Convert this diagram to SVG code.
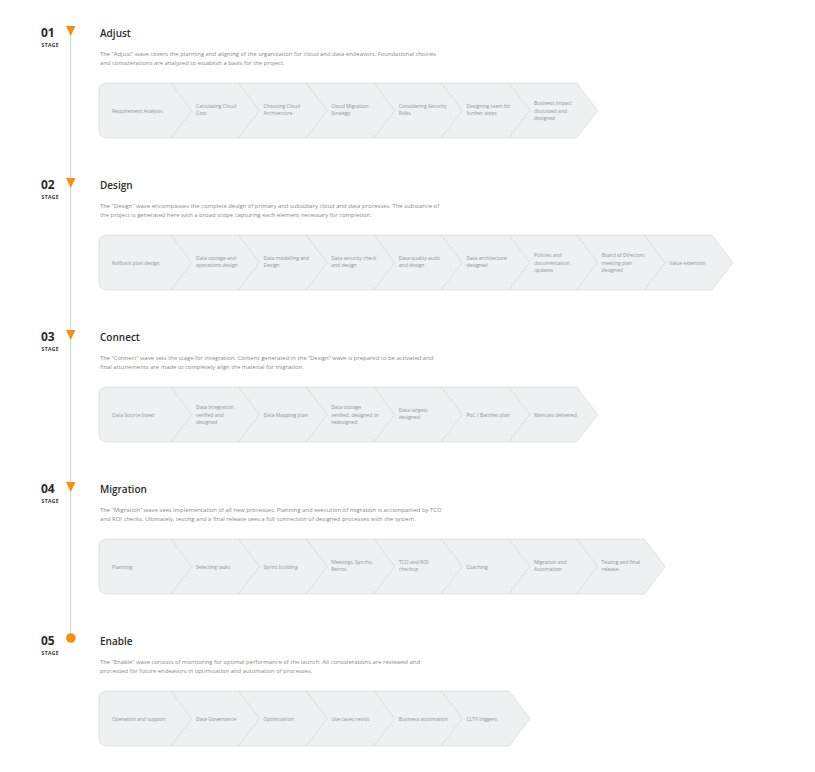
<svg xmlns="http://www.w3.org/2000/svg" xmlns:xlink="http://www.w3.org/1999/xlink" width="815" height="772" viewBox="0 0 815 772">
<style>
.num{font-family:"Open Sans","Liberation Sans",sans-serif;font-weight:700;font-size:12px;fill:#2b2b2b}
.stg{font-family:"Open Sans","Liberation Sans",sans-serif;font-weight:700;font-size:5px;letter-spacing:0.4px;fill:#333}
.ttl{font-family:"Open Sans","Liberation Sans",sans-serif;font-weight:600;font-size:10px;fill:#2b2b2b}
.dsc{font-family:"Open Sans","Liberation Sans",sans-serif;font-size:5.9px;fill:#8a8a8a}
.lbl{font-family:"Open Sans","Liberation Sans",sans-serif;font-size:5px;fill:#8e9399}
.chev{fill:#eef0f2;stroke:#d8dce0;stroke-width:0.8;stroke-linejoin:round}
.mark{fill:#f28f1b}
.tl{stroke:#d2d2d2;stroke-width:1;fill:none}
</style>
<defs>
<path id="chev0" d="M107,63 L171,63 L192,90.5 L171,118 L107,118 Q99,118 99,110 L99,71 Q99,63 107,63 Z"/>
<path id="chev" d="M0,63 L67.6,63 L88.6,90.5 L67.6,118 L0,118 L21,90.5 Z"/>
</defs>
<rect width="815" height="772" fill="#ffffff"/>
<g id="connectors">
<line class="tl" x1="70.7" y1="30" x2="70.7" y2="638"/>
</g>

<!-- Stage 1 -->
<g id="stage1" transform="translate(0,20)">
<g id="s1-header">
<polygon class="mark" points="66,6 75.4,6 70.7,16"/>
<text class="num" x="41" y="17">01</text>
<text class="stg" x="41.5" y="27.3">STAGE</text>
<text class="ttl" x="100" y="17">Adjust</text>
<text class="dsc" x="100" y="35.5">The “Adjust” wave covers the planning and aligning of the organization for cloud and data endeavors. Foundational choices</text>
<text class="dsc" x="100" y="44.5">and considerations are analyzed to establish a basis for the project.</text>
</g>
<g id="s1-c1"><use xlink:href="#chev0" class="chev"/><text class="lbl" x="112" y="92.5">Requirement Analysis</text></g>
<g id="s1-c2"><use xlink:href="#chev" class="chev" x="171"/><text class="lbl" x="196" y="87.8">Calculating Cloud</text><text class="lbl" x="196" y="95.2">Cost</text></g>
<g id="s1-c3"><use xlink:href="#chev" class="chev" x="238.6"/><text class="lbl" x="263.6" y="87.8">Choosing Cloud</text><text class="lbl" x="263.6" y="95.2">Architecture</text></g>
<g id="s1-c4"><use xlink:href="#chev" class="chev" x="306.2"/><text class="lbl" x="331.2" y="87.8">Cloud Migration</text><text class="lbl" x="331.2" y="95.2">Strategy</text></g>
<g id="s1-c5"><use xlink:href="#chev" class="chev" x="373.8"/><text class="lbl" x="398.8" y="87.8">Considering Security</text><text class="lbl" x="398.8" y="95.2">Risks</text></g>
<g id="s1-c6"><use xlink:href="#chev" class="chev" x="441.4"/><text class="lbl" x="466.4" y="87.8">Designing team for</text><text class="lbl" x="466.4" y="95.2">further steps</text></g>
<g id="s1-c7"><use xlink:href="#chev" class="chev" x="509"/><text class="lbl" x="534" y="85.1">Business Impact</text><text class="lbl" x="534" y="92.5">discussed and</text><text class="lbl" x="534" y="99.9">designed</text></g>
</g>

<!-- Stage 2 -->
<g id="stage2" transform="translate(0,172)">
<g id="s2-header">
<polygon class="mark" points="66,6 75.4,6 70.7,16"/>
<text class="num" x="41" y="17">02</text>
<text class="stg" x="41.5" y="27.3">STAGE</text>
<text class="ttl" x="100" y="17">Design</text>
<text class="dsc" x="100" y="35.5">The “Design” wave encompasses the complete design of primary and subsidiary cloud and data processes. The substance of</text>
<text class="dsc" x="100" y="44.5">the project is generated here with a broad scope capturing each element necessary for completion.</text>
</g>
<g id="s2-c1"><use xlink:href="#chev0" class="chev"/><text class="lbl" x="112" y="92.5">Rollback plan design</text></g>
<g id="s2-c2"><use xlink:href="#chev" class="chev" x="171"/><text class="lbl" x="196" y="87.8">Data storage and</text><text class="lbl" x="196" y="95.2">operations design</text></g>
<g id="s2-c3"><use xlink:href="#chev" class="chev" x="238.6"/><text class="lbl" x="263.6" y="87.8">Data modelling and</text><text class="lbl" x="263.6" y="95.2">Design</text></g>
<g id="s2-c4"><use xlink:href="#chev" class="chev" x="306.2"/><text class="lbl" x="331.2" y="87.8">Data security check</text><text class="lbl" x="331.2" y="95.2">and design</text></g>
<g id="s2-c5"><use xlink:href="#chev" class="chev" x="373.8"/><text class="lbl" x="398.8" y="87.8">Data quality audit</text><text class="lbl" x="398.8" y="95.2">and design</text></g>
<g id="s2-c6"><use xlink:href="#chev" class="chev" x="441.4"/><text class="lbl" x="466.4" y="87.8">Data architecture</text><text class="lbl" x="466.4" y="95.2">designed</text></g>
<g id="s2-c7"><use xlink:href="#chev" class="chev" x="509"/><text class="lbl" x="534" y="85.1">Policies and</text><text class="lbl" x="534" y="92.5">documentation</text><text class="lbl" x="534" y="99.9">updates</text></g>
<g id="s2-c8"><use xlink:href="#chev" class="chev" x="576.6"/><text class="lbl" x="601.6" y="85.1">Board of Directors</text><text class="lbl" x="601.6" y="92.5">meeting plan</text><text class="lbl" x="601.6" y="99.9">designed</text></g>
<g id="s2-c9"><use xlink:href="#chev" class="chev" x="644.2"/><text class="lbl" x="669.2" y="92.5">Value extention</text></g>
</g>

<!-- Stage 3 -->
<g id="stage3" transform="translate(0,324)">
<g id="s3-header">
<polygon class="mark" points="66,6 75.4,6 70.7,16"/>
<text class="num" x="41" y="17">03</text>
<text class="stg" x="41.5" y="27.3">STAGE</text>
<text class="ttl" x="100" y="17">Connect</text>
<text class="dsc" x="100" y="35.5">The “Connect” wave sets the stage for integration. Content generated in the “Design” wave is prepared to be activated and</text>
<text class="dsc" x="100" y="44.5">final attunements are made to completely align the material for migration.</text>
</g>
<g id="s3-c1"><use xlink:href="#chev0" class="chev"/><text class="lbl" x="112" y="92.5">Data Source listed</text></g>
<g id="s3-c2"><use xlink:href="#chev" class="chev" x="171"/><text class="lbl" x="196" y="85.1">Data integration</text><text class="lbl" x="196" y="92.5">verified and</text><text class="lbl" x="196" y="99.9">designed</text></g>
<g id="s3-c3"><use xlink:href="#chev" class="chev" x="238.6"/><text class="lbl" x="263.6" y="92.5">Data Mapping plan</text></g>
<g id="s3-c4"><use xlink:href="#chev" class="chev" x="306.2"/><text class="lbl" x="331.2" y="85.1">Data storage</text><text class="lbl" x="331.2" y="92.5">verified, designed or</text><text class="lbl" x="331.2" y="99.9">redesigned</text></g>
<g id="s3-c5"><use xlink:href="#chev" class="chev" x="373.8"/><text class="lbl" x="398.8" y="87.8">Data targets</text><text class="lbl" x="398.8" y="95.2">designed</text></g>
<g id="s3-c6"><use xlink:href="#chev" class="chev" x="441.4"/><text class="lbl" x="466.4" y="92.5">PoC / Batches plan</text></g>
<g id="s3-c7"><use xlink:href="#chev" class="chev" x="509"/><text class="lbl" x="534" y="92.5">Manuals delivered</text></g>
</g>

<!-- Stage 4 -->
<g id="stage4" transform="translate(0,476)">
<g id="s4-header">
<polygon class="mark" points="66,6 75.4,6 70.7,16"/>
<text class="num" x="41" y="17">04</text>
<text class="stg" x="41.5" y="27.3">STAGE</text>
<text class="ttl" x="100" y="17">Migration</text>
<text class="dsc" x="100" y="35.5">The “Migration” wave sees implementation of all new processes. Planning and execution of migration is accompanied by TCO</text>
<text class="dsc" x="100" y="44.5">and ROI checks. Ultimately, testing and a final release sees a full connection of designed processes with the system.</text>
</g>
<g id="s4-c1"><use xlink:href="#chev0" class="chev"/><text class="lbl" x="112" y="92.5">Planning</text></g>
<g id="s4-c2"><use xlink:href="#chev" class="chev" x="171"/><text class="lbl" x="196" y="92.5">Selecting tasks</text></g>
<g id="s4-c3"><use xlink:href="#chev" class="chev" x="238.6"/><text class="lbl" x="263.6" y="92.5">Sprint building</text></g>
<g id="s4-c4"><use xlink:href="#chev" class="chev" x="306.2"/><text class="lbl" x="331.2" y="87.8">Meetings, Synchs,</text><text class="lbl" x="331.2" y="95.2">Retros</text></g>
<g id="s4-c5"><use xlink:href="#chev" class="chev" x="373.8"/><text class="lbl" x="398.8" y="87.8">TCO and ROI</text><text class="lbl" x="398.8" y="95.2">checkup</text></g>
<g id="s4-c6"><use xlink:href="#chev" class="chev" x="441.4"/><text class="lbl" x="466.4" y="92.5">Coaching</text></g>
<g id="s4-c7"><use xlink:href="#chev" class="chev" x="509"/><text class="lbl" x="534" y="87.8">Migration and</text><text class="lbl" x="534" y="95.2">Automation</text></g>
<g id="s4-c8"><use xlink:href="#chev" class="chev" x="576.6"/><text class="lbl" x="601.6" y="87.8">Testing and final</text><text class="lbl" x="601.6" y="95.2">release</text></g>
</g>

<!-- Stage 5 -->
<g id="stage5" transform="translate(0,628)">
<g id="s5-header">
<circle cx="70.9" cy="10" r="4.8" class="mark"/>
<text class="num" x="41" y="17">05</text>
<text class="stg" x="41.5" y="27.3">STAGE</text>
<text class="ttl" x="100" y="17">Enable</text>
<text class="dsc" x="100" y="35.5">The “Enable” wave consists of monitoring for optimal performance of the launch. All considerations are reviewed and</text>
<text class="dsc" x="100" y="44.5">processed for future endeavors in optimization and automation of processes.</text>
</g>
<g id="s5-c1"><use xlink:href="#chev0" class="chev"/><text class="lbl" x="112" y="92.5">Operation and support</text></g>
<g id="s5-c2"><use xlink:href="#chev" class="chev" x="171"/><text class="lbl" x="196" y="92.5">Data Governance</text></g>
<g id="s5-c3"><use xlink:href="#chev" class="chev" x="238.6"/><text class="lbl" x="263.6" y="92.5">Optimization</text></g>
<g id="s5-c4"><use xlink:href="#chev" class="chev" x="306.2"/><text class="lbl" x="331.2" y="92.5">Use cases revisit</text></g>
<g id="s5-c5"><use xlink:href="#chev" class="chev" x="373.8"/><text class="lbl" x="398.8" y="92.5">Business automation</text></g>
<g id="s5-c6"><use xlink:href="#chev" class="chev" x="441.4"/><text class="lbl" x="466.4" y="92.5">CLTV triggers</text></g>
</g>
</svg>
